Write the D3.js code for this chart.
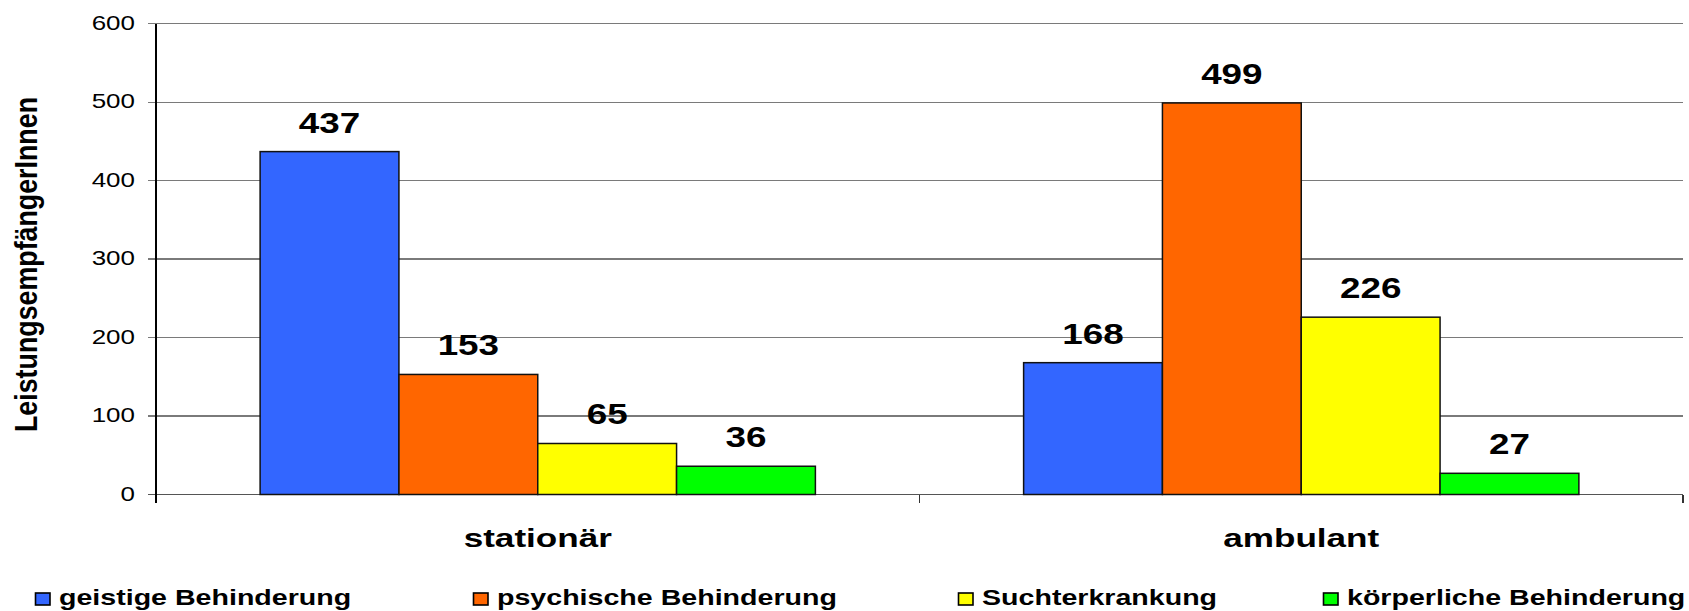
<!DOCTYPE html>
<html>
<head>
<meta charset="utf-8">
<script src="https://cdn.jsdelivr.net/npm/d3@7"></script>
<style>
  html, body { margin: 0; padding: 0; background: #fff; }
  svg { display: block; font-family: "Liberation Sans", Arial, sans-serif; }
</style>
</head>
<body>
<svg id="chart" width="1689" height="611"></svg>
<script>
// Leistungsempfänger nach Wohnform und Art der Behinderung
const categories = ["stationär", "ambulant"];
const seriesNames = ["geistige Behinderung", "psychische Behinderung", "Suchterkrankung", "körperliche Behinderung"];
const seriesColors = ["#3366FF", "#FF6600", "#FFFF00", "#00FF00"];
const stationaerValues = [437, 153, 65, 36];
const ambulantValues = [168, 499, 226, 27];
const yTicks = [0, 100, 200, 300, 400, 500, 600];
const yAxisTitle = "LeistungsempfängerInnen";

const values = { "stationär": stationaerValues, "ambulant": ambulantValues };

const svg = d3.select("#chart");
const plot = { left: 156, right: 1683, top: 23.7, bottom: 494.5 };

const x0 = d3.scaleBand().domain(categories).range([plot.left, plot.right]).paddingInner(0).paddingOuter(0);
const x1 = d3.scaleBand().domain(seriesNames).range([0, x0.bandwidth()]).paddingInner(0).paddingOuter(0.75);
const y = d3.scaleLinear().domain([0, 600]).range([plot.bottom, plot.top]);

// text drawn with a horizontal stretch around its anchor point
function stretchedText(sel, x, yPos, sx) {
  return sel.attr("transform", `translate(${x},${yPos}) scale(${sx},1)`);
}

// horizontal gridlines with short tick marks on the left
const grid = svg.append("g");
grid.selectAll("line").data(yTicks).join("line")
  .attr("x1", plot.left - 8).attr("x2", plot.right)
  .attr("y1", d => y(d)).attr("y2", d => y(d))
  .attr("stroke", d => d === 0 ? "#555" : "#7a7a7a")
  .attr("stroke-width", 1.3)
  .attr("shape-rendering", "crispEdges");

// y tick labels
svg.append("g").selectAll("text").data(yTicks).join("text")
  .each(function(d) { stretchedText(d3.select(this), 135, y(d) + 6, 1.3); })
  .attr("text-anchor", "end")
  .attr("font-size", 20)
  .attr("fill", "#000")
  .text(d => d);

// y axis line
svg.append("line")
  .attr("x1", plot.left).attr("x2", plot.left)
  .attr("y1", plot.top).attr("y2", plot.bottom + 8)
  .attr("stroke", "#000").attr("stroke-width", 1.3)
  .attr("shape-rendering", "crispEdges");

// category boundary ticks below the baseline
const boundaries = [plot.left, ...categories.map(c => x0(c) + x0.bandwidth())];
svg.append("g").selectAll("line").data(boundaries.slice(1)).join("line")
  .attr("x1", d => d).attr("x2", d => d)
  .attr("y1", plot.bottom).attr("y2", plot.bottom + 8)
  .attr("stroke", "#333").attr("stroke-width", 1.3)
  .attr("shape-rendering", "crispEdges");

// bars
const groups = svg.append("g").selectAll("g").data(categories).join("g")
  .attr("transform", c => `translate(${x0(c)},0)`);

groups.selectAll("rect")
  .data(c => seriesNames.map((s, i) => ({ s, i, v: values[c][i] })))
  .join("rect")
  .attr("x", d => x1(d.s))
  .attr("y", d => y(d.v))
  .attr("width", x1.bandwidth())
  .attr("height", d => y(0) - y(d.v))
  .attr("fill", d => seriesColors[d.i])
  .attr("stroke", "#111")
  .attr("stroke-width", 1.5);

// value labels above bars
groups.selectAll("text.value")
  .data(c => seriesNames.map((s, i) => ({ s, i, v: values[c][i] })))
  .join("text")
  .attr("class", "value")
  .each(function(d) { stretchedText(d3.select(this), x1(d.s) + x1.bandwidth() / 2, y(d.v) - 19, 1.27); })
  .attr("text-anchor", "middle")
  .attr("font-size", 29)
  .attr("font-weight", "bold")
  .attr("fill", "#000")
  .text(d => d.v);

// category labels
svg.append("g").selectAll("text").data(categories).join("text")
  .each(function(c) { stretchedText(d3.select(this), x0(c) + x0.bandwidth() / 2, 546.5, 1.35); })
  .attr("text-anchor", "middle")
  .attr("font-size", 26)
  .attr("font-weight", "bold")
  .attr("fill", "#000")
  .text(c => c);

// y axis title (rotated, tightly spaced)
svg.append("text")
  .attr("transform", `translate(37,264.5) rotate(-90)`)
  .attr("text-anchor", "middle")
  .attr("font-size", 32)
  .attr("font-weight", "bold")
  .attr("textLength", 335)
  .attr("lengthAdjust", "spacingAndGlyphs")
  .attr("fill", "#000")
  .text(yAxisTitle);

// legend
const legendX = [35, 473, 958, 1323];
const legend = svg.append("g").selectAll("g").data(seriesNames).join("g")
  .attr("transform", (d, i) => `translate(${legendX[i]},0)`);
legend.append("rect")
  .attr("x", 0.5).attr("y", 593)
  .attr("width", 14.5).attr("height", 12)
  .attr("fill", (d, i) => seriesColors[i])
  .attr("stroke", "#000").attr("stroke-width", 1.6);
legend.append("text")
  .each(function() { stretchedText(d3.select(this), 24, 605, 1.3); })
  .attr("font-size", 22)
  .attr("font-weight", "bold")
  .attr("fill", "#000")
  .text(d => d);
</script>
</body>
</html>
